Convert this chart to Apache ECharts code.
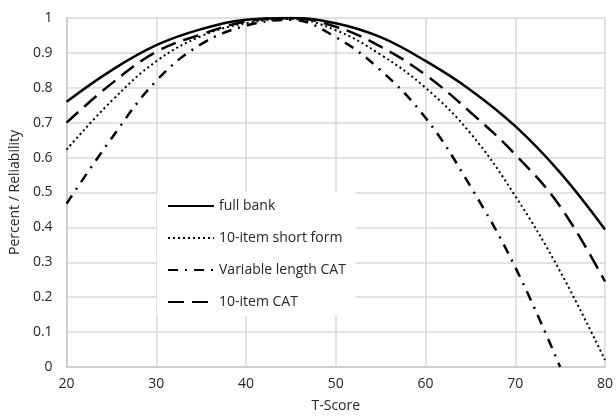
<!DOCTYPE html>
<html>
<head>
<meta charset="utf-8">
<script src="https://cdn.jsdelivr.net/npm/echarts@6/dist/echarts.min.js"></script>
<style>
  html, body { margin: 0; padding: 0; background: #fff; }
  #chart { width: 616px; height: 418px; }
</style>
</head>
<body>
<div id="chart"></div>
<script>
// T-Score positions of the read values
var tScores = [20, 25, 30, 35, 40, 45, 50, 55, 60, 65, 70, 75, 80]
var fullBank = [0.76, 0.85, 0.922, 0.968, 0.995, 1.0, 0.985, 0.945, 0.877, 0.794, 0.69, 0.557, 0.394]
var shortForm = [0.623, 0.762, 0.876, 0.948, 0.985, 0.997, 0.965, 0.895, 0.80, 0.67, 0.49, 0.274, 0.02]
var varCat = [0.468, 0.655, 0.82, 0.925, 0.978, 0.995, 0.945, 0.85, 0.714, 0.518, 0.286, 0.0]
var itemCat = [0.70, 0.812, 0.903, 0.953, 0.99, 1.0, 0.975, 0.918, 0.837, 0.73, 0.609, 0.46, 0.245]
var seriesNames = ['full bank', '10-item short form', 'Variable length CAT', '10-item CAT']

function pairs (vals) {
  return vals.map(function (v, i) { return [tScores[i], v] })
}

var textColor = '#262626'
var gridColor = '#d9d9d9'
var font = 'Open Sans'

var chart = echarts.init(document.getElementById('chart'))
var option = {
  animation: false,
  backgroundColor: '#fff',
  grid: { left: 64, right: 8, top: 18, bottom: 50 },
  xAxis: {
    type: 'value',
    min: 20,
    max: 80,
    interval: 10,
    name: 'T-Score',
    nameLocation: 'middle',
    nameGap: 32,
    nameTextStyle: { color: textColor, fontSize: 14, fontFamily: font },
    axisLine: { lineStyle: { color: '#cfcfcf', width: 2 } },
    axisTick: { show: false },
    axisLabel: { color: textColor, fontSize: 14, fontFamily: font, margin: 10 },
    splitLine: { show: true, lineStyle: { color: gridColor, width: 1.5 } }
  },
  yAxis: {
    type: 'value',
    min: 0,
    max: 1,
    interval: 0.1,
    name: 'Percent / Reliability',
    nameLocation: 'middle',
    nameGap: 44,
    nameTextStyle: { color: textColor, fontSize: 14, fontFamily: font },
    axisLine: { show: true, lineStyle: { color: '#cfcfcf', width: 2 } },
    axisTick: { show: false },
    axisLabel: { color: textColor, fontSize: 14, fontFamily: font, margin: 14 },
    splitLine: { show: true, lineStyle: { color: gridColor, width: 1.5 } }
  },
  legend: {
    orient: 'vertical',
    left: 157,
    top: 192,
    padding: [7, 10, 7, 10],
    backgroundColor: '#fff',
    itemWidth: 46,
    itemHeight: 14,
    itemGap: 18,
    itemTextGap: 10,
    itemStyle: { opacity: 0 }, // hide the symbol, keep only the line
    textStyle: { color: textColor, fontSize: 14, fontFamily: font },
    data: seriesNames
  },
  series: [
    {
      name: seriesNames[0],
      type: 'line',
      smooth: 0.4,
      symbol: 'none',
      data: pairs(fullBank),
      lineStyle: { color: '#000', width: 2.5, type: 'solid' }
    },
    {
      name: seriesNames[1],
      type: 'line',
      smooth: 0.4,
      symbol: 'none',
      data: pairs(shortForm),
      lineStyle: { color: '#000', width: 2, type: [2, 3] }
    },
    {
      name: seriesNames[2],
      type: 'line',
      smooth: 0.4,
      symbol: 'none',
      data: pairs(varCat),
      lineStyle: { color: '#000', width: 2.5, type: [10, 7, 2, 7] }
    },
    {
      name: seriesNames[3],
      type: 'line',
      smooth: 0.4,
      symbol: 'none',
      data: pairs(itemCat),
      lineStyle: { color: '#000', width: 2.5, type: [16, 8] }
    }
  ]
}
chart.setOption(option)
</script>
</body>
</html>
